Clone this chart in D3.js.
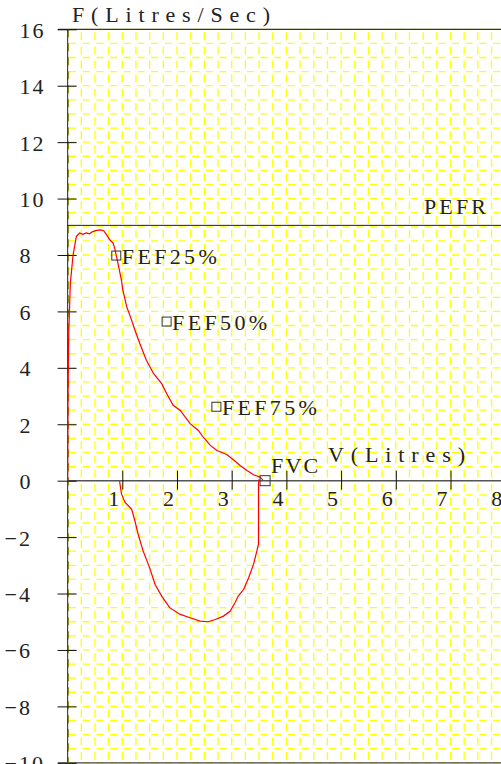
<!DOCTYPE html>
<html>
<head>
<meta charset="utf-8">
<script src="https://cdn.jsdelivr.net/npm/d3@7"></script>
<style>
  body { margin: 0; background: #fff; }
  svg { display: block; }
  text { font-family: "Liberation Serif", serif; fill: #222; }
</style>
</head>
<body>
<svg id="chart"></svg>
<script>
/* flow-volume loop */
var expiratory = [
  [0, 0], [0.003, 1.5], [0.006, 2.85], [0.02, 5.2], [0.05, 7.0], [0.1, 8.0], [0.16, 8.66],
  [0.22, 8.78], [0.28, 8.73], [0.34, 8.78], [0.40, 8.75], [0.46, 8.83], [0.53, 8.87],
  [0.60, 8.89], [0.66, 8.86], [0.71, 8.72], [0.77, 8.54], [0.83, 8.42], [0.86, 8.25],
  [0.92, 7.71], [0.985, 7.1], [1.01, 6.76], [1.08, 6.17], [1.17, 5.69], [1.23, 5.34],
  [1.32, 4.86], [1.44, 4.27], [1.57, 3.80], [1.72, 3.44], [1.81, 3.09], [1.93, 2.67],
  [2.06, 2.49], [2.24, 2.02], [2.39, 1.78], [2.48, 1.54], [2.61, 1.25], [2.73, 1.07],
  [2.91, 0.93], [3.03, 0.74], [3.16, 0.53], [3.28, 0.36], [3.40, 0.21], [3.52, 0.12],
  [3.57, 0.03]
];
var inspiratory = [
  [3.50, 0.05], [3.49, -0.1], [3.49, -2.24], [3.46, -2.49], [3.40, -2.96], [3.31, -3.44],
  [3.22, -3.85], [3.12, -4.09], [3.06, -4.33], [2.97, -4.63], [2.85, -4.80], [2.70, -4.92],
  [2.57, -5.0], [2.42, -4.98], [2.24, -4.86], [2.06, -4.74], [1.87, -4.51], [1.72, -4.09],
  [1.60, -3.68], [1.50, -3.09], [1.38, -2.49], [1.29, -1.90], [1.23, -1.42], [1.17, -1.01],
  [1.05, -0.77], [0.985, -0.47], [0.95, -0.02]
];

var markerLabels = ["FEF25%", "FEF50%", "FEF75%"];
var markerV = [0.89, 1.81, 2.72];
var markerF = [7.98, 5.64, 2.62];

var fvc = 3.61;
var pefr = 9.05;

var xTicks = [1, 2, 3, 4, 5, 6, 7, 8];
var yTicks = [-10, -8, -6, -4, -2, 0, 2, 4, 6, 8, 10, 12, 14, 16];

var width = 501, height = 764;

var svg = d3.select("#chart")
  .attr("width", width)
  .attr("height", height);

var x = d3.scaleLinear().domain([0, 8]).range([67.6, 505.2]);
var y = d3.scaleLinear().domain([-10, 16]).range([762.8, 29.3]);

/* yellow dashed grid: every 0.25 litre and every 0.5 litre/sec */
var grid = svg.append("g");
var vGrid = d3.range(0.25, 8.01, 0.25);
var hGrid = d3.range(-10, 16.01, 0.5);
var cellH = y(-10) - y(-9.5);
var cellW = x(0.25) - x(0);

grid.selectAll(".vg")
  .data(vGrid)
  .enter()
  .append("line")
  .attr("x1", function(d) { return x(d); })
  .attr("x2", function(d) { return x(d); })
  .attr("y1", y(16) + 3)
  .attr("y2", y(-10))
  .attr("stroke", "#ffff00")
  .attr("stroke-width", 1.3)
  .attr("stroke-dasharray", "8," + (cellH - 8));

grid.selectAll(".hg")
  .data(hGrid)
  .enter()
  .append("line")
  .attr("x1", x(0) + 1.5)
  .attr("x2", width)
  .attr("y1", function(d) { return y(d); })
  .attr("y2", function(d) { return y(d); })
  .attr("stroke", "#ffff00")
  .attr("stroke-width", 1.3)
  .attr("stroke-dasharray", "7," + (cellW - 7));

/* frame and axes */
svg.append("line")
  .attr("x1", 58).attr("x2", width)
  .attr("y1", y(16)).attr("y2", y(16))
  .attr("stroke", "#333").attr("stroke-width", 1.2);

svg.append("line")
  .attr("x1", 58).attr("x2", width)
  .attr("y1", y(-10)).attr("y2", y(-10))
  .attr("stroke", "#444").attr("stroke-width", 1.2);

svg.append("line")
  .attr("x1", x(0) + 1).attr("x2", x(0) + 1)
  .attr("y1", y(16)).attr("y2", y(-10))
  .attr("stroke", "#999900").attr("stroke-width", 1)
  .attr("stroke-dasharray", "8,6");

svg.append("line")
  .attr("x1", x(0)).attr("x2", x(0))
  .attr("y1", y(16)).attr("y2", y(-10))
  .attr("stroke", "#444").attr("stroke-width", 1.2);

svg.append("line")
  .attr("x1", x(0)).attr("x2", width)
  .attr("y1", y(0)).attr("y2", y(0))
  .attr("stroke", "#555").attr("stroke-width", 1.4);

/* y axis: ticks cross the axis line */
var yAxis = svg.append("g")
  .attr("transform", "translate(" + x(0) + ",0)")
  .call(d3.axisLeft(y).tickValues(yTicks).tickSize(10));
yAxis.select(".domain").remove();
yAxis.selectAll(".tick line").attr("x1", 9).attr("stroke", "#111");
yAxis.selectAll(".tick text")
  .attr("font-family", "Liberation Mono")
  .attr("font-size", 22)
  .attr("letter-spacing", 2)
  .attr("fill", "#333")
  .attr("text-anchor", "start")
  .attr("dy", "0.36em")
  .attr("x", function(d) { return d < 0 ? -63 : -48; });

/* x axis */
var xAxis = svg.append("g")
  .attr("transform", "translate(0," + y(0) + ")")
  .call(d3.axisBottom(x).tickValues(xTicks).tickSize(9));
xAxis.select(".domain").remove();
xAxis.selectAll(".tick line").attr("y1", -10).attr("stroke", "#111");
xAxis.selectAll(".tick text")
  .attr("font-family", "Liberation Mono")
  .attr("font-size", 22)
  .attr("fill", "#333")
  .attr("dy", null)
  .attr("y", 25)
  .attr("x", -9);

/* PEFR line */
svg.append("line")
  .attr("x1", x(0)).attr("x2", width)
  .attr("y1", y(pefr)).attr("y2", y(pefr))
  .attr("stroke", "#222").attr("stroke-width", 1);

svg.append("text")
  .attr("x", 424).attr("y", y(pefr) - 11)
  .attr("font-size", 22)
  .attr("textLength", 62).attr("lengthAdjust", "spacing")
  .text("PEFR");

/* the loop */
var line = d3.line()
  .x(function(d) { return x(d[0]); })
  .y(function(d) { return y(d[1]); });

svg.append("path")
  .datum(expiratory)
  .attr("d", line)
  .attr("fill", "none")
  .attr("stroke", "#ff0000")
  .attr("stroke-width", 1.2);

svg.append("path")
  .datum(inspiratory)
  .attr("d", line)
  .attr("fill", "none")
  .attr("stroke", "#ff0000")
  .attr("stroke-width", 1.2);

/* FEF markers */
var markers = svg.selectAll(".marker")
  .data(markerLabels)
  .enter()
  .append("g")
  .attr("transform", function(d, i) {
    return "translate(" + x(markerV[i]) + "," + y(markerF[i]) + ")";
  });

markers.append("rect")
  .attr("x", -4.5).attr("y", -4.5)
  .attr("width", 9).attr("height", 9)
  .attr("fill", "none")
  .attr("stroke", "#333")
  .attr("stroke-width", 1);

markers.append("text")
  .attr("x", 5.5).attr("y", 8)
  .attr("font-size", 22)
  .attr("textLength", 95).attr("lengthAdjust", "spacing")
  .text(function(d) { return d; });

/* FVC */
svg.append("rect")
  .attr("x", x(fvc) - 5).attr("y", y(0) - 5)
  .attr("width", 10).attr("height", 10)
  .attr("fill", "none")
  .attr("stroke", "#333");

svg.append("text")
  .attr("x", x(fvc) + 6).attr("y", y(0) - 8)
  .attr("font-size", 22)
  .attr("textLength", 47).attr("lengthAdjust", "spacing")
  .text("FVC");

/* axis titles */
svg.append("text")
  .attr("x", 72).attr("y", 22)
  .attr("font-size", 22)
  .attr("textLength", 198).attr("lengthAdjust", "spacing")
  .text("F(Litres/Sec)");

svg.append("text")
  .attr("x", 328).attr("y", 462)
  .attr("font-size", 22)
  .attr("textLength", 137).attr("lengthAdjust", "spacing")
  .text("V(Litres)");
</script>
</body>
</html>
